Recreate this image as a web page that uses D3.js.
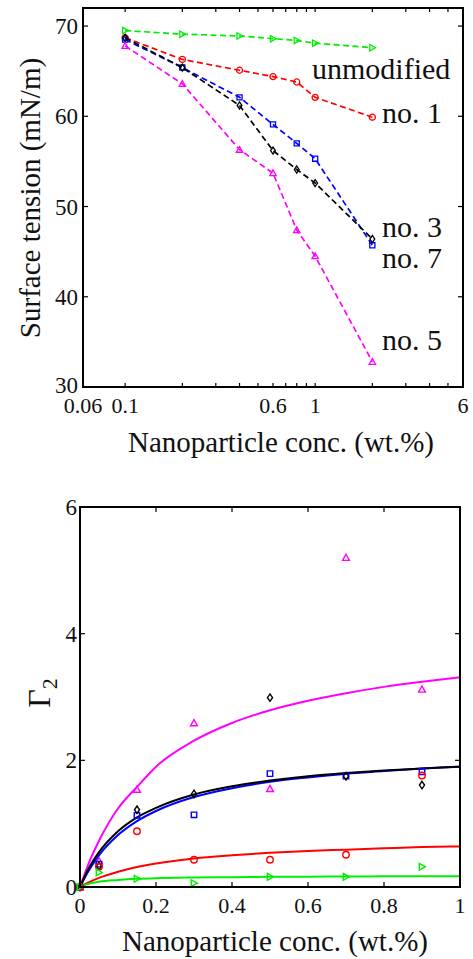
<!DOCTYPE html>
<html>
<head>
<meta charset="utf-8">
<script src="https://cdn.jsdelivr.net/npm/d3@7"></script>
<style>
  html, body { margin: 0; padding: 0; background: #fff; }
  svg { display: block; }
  text { font-family: "Liberation Serif", "Times New Roman", serif; fill: #111; }
</style>
</head>
<body>
<svg id="chart" width="473" height="959"></svg>
<script>
// ---- top panel: surface tension vs concentration (log x) ----
var conc = [0.1, 0.2, 0.4, 0.6, 0.8, 1, 2];
var tensUnmod = [69.5, 69.1, 68.9, 68.6, 68.4, 68.1, 67.6];
var tensNo1   = [68.7, 66.3, 65.1, 64.4, 63.8, 62.1, 59.9];
var tensNo7   = [68.5, 65.4, 62.1, 59.1, 57.0, 55.3, 45.7];
var tensNo3   = [68.7, 65.4, 61.2, 56.2, 54.1, 52.6, 46.4];
var tensNo5   = [67.8, 63.6, 56.3, 53.7, 47.4, 44.5, 32.8];
var topXTicks = [0.06, 0.1, 0.2, 0.3, 0.4, 0.5, 0.6, 0.7, 0.8, 0.9, 1, 2, 3, 4, 5, 6];
var topXLabels = [0.06, 0.1, 0.6, 1, 6];
var topYTicks = [30, 40, 50, 60, 70];

// ---- bottom panel: Gamma_2 vs concentration ----
var conc2 = [0, 0.05, 0.15, 0.3, 0.5, 0.7, 0.9];
var gamUnmod = [0, 0.23, 0.13, 0.06, 0.16, 0.16, 0.32];
var gamNo1   = [0, 0.32, 0.88, 0.43, 0.43, 0.51, 1.76];
var gamNo7   = [0, 0.36, 1.13, 1.14, 1.79, 1.75, 1.82];
var gamNo3   = [0, 0.33, 1.22, 1.47, 2.99, 1.75, 1.61];
var gamNo5   = [0, 0.41, 1.54, 2.59, 1.55, 5.20, 3.12];
// fitted curves
var fitX     = [0, 0.02, 0.05, 0.1, 0.15, 0.2, 0.3, 0.4, 0.5, 0.6, 0.7, 0.8, 0.9, 1];
var fitNo5   = [0, 0.33, 0.73, 1.24, 1.58, 1.90, 2.31, 2.59, 2.79, 2.94, 3.06, 3.16, 3.24, 3.31];
var fitNo3   = [0, 0.26, 0.55, 0.88, 1.10, 1.25, 1.46, 1.59, 1.68, 1.75, 1.80, 1.84, 1.87, 1.90];
var fitNo7   = [0, 0.23, 0.50, 0.82, 1.04, 1.20, 1.42, 1.56, 1.66, 1.73, 1.79, 1.83, 1.87, 1.90];
var fitNo1   = [0, 0.065, 0.144, 0.24, 0.315, 0.37, 0.45, 0.50, 0.54, 0.57, 0.59, 0.61, 0.63, 0.64];
var fitUnmod = [0, 0.045, 0.082, 0.11, 0.129, 0.14, 0.15, 0.155, 0.16, 0.163, 0.166, 0.168, 0.169, 0.17];
var botXTicks = [0, 0.2, 0.4, 0.6, 0.8, 1];
var botYTicks = [0, 2, 4, 6];

var GREEN = '#00ee00', RED = '#ff0000', BLUE = '#0000ff', BLACK = '#000000', MAGENTA = '#ff00ff';

var svg = d3.select('#chart');

// marker shapes (MATLAB style): '>', 'o', 's', 'd', '^'
function markerPath(type, s) {
  switch (type) {
    case 'tri-right': return 'M' + (-s * 0.8) + ',' + (-s) + 'L' + (s) + ',0L' + (-s * 0.8) + ',' + s + 'Z';
    case 'tri-up':    return 'M0,' + (-s) + 'L' + s + ',' + (s * 0.8) + 'L' + (-s) + ',' + (s * 0.8) + 'Z';
    case 'square':    return 'M' + (-s * 0.8) + ',' + (-s * 0.8) + 'h' + (s * 1.6) + 'v' + (s * 1.6) + 'h' + (-s * 1.6) + 'Z';
    case 'diamond':   return 'M0,' + (-s * 1.1) + 'L' + (s * 0.75) + ',0L0,' + (s * 1.1) + 'L' + (-s * 0.75) + ',0Z';
    default:          return d3.arc()({innerRadius: 0, outerRadius: s * 0.95, startAngle: 0, endAngle: 2 * Math.PI});
  }
}

function drawFrame(g, x0, x1, y0, y1) {
  g.append('rect')
    .attr('x', x0).attr('y', y0)
    .attr('width', x1 - x0).attr('height', y1 - y0)
    .attr('fill', 'none').attr('stroke', '#000').attr('stroke-width', 2);
}

// ================= top panel =================
var T = {left: 83, right: 463, top: 8, bottom: 387};
var xTop = d3.scaleLog().domain([0.06, 6]).range([T.left, T.right]);
var yTop = d3.scaleLinear().domain([30, 72]).range([T.bottom, T.top]);
var gTop = svg.append('g');

var topSeries = [
  {vals: tensUnmod, color: GREEN,   mark: 'tri-right'},
  {vals: tensNo1,   color: RED,     mark: 'circle'},
  {vals: tensNo7,   color: BLUE,    mark: 'square'},
  {vals: tensNo3,   color: BLACK,   mark: 'diamond'},
  {vals: tensNo5,   color: MAGENTA, mark: 'tri-up'}
];

var lineTop = d3.line()
  .x(function(d) { return xTop(d[0]); })
  .y(function(d) { return yTop(d[1]); });

topSeries.forEach(function(s) {
  var pts = conc.map(function(c, i) { return [c, s.vals[i]]; });
  gTop.append('path')
    .attr('d', lineTop(pts))
    .attr('fill', 'none').attr('stroke', s.color)
    .attr('stroke-width', 1.7).attr('stroke-dasharray', '6,3.5');
  gTop.selectAll(null).data(pts).enter().append('path')
    .attr('transform', function(d) { return 'translate(' + xTop(d[0]) + ',' + yTop(d[1]) + ')'; })
    .attr('d', markerPath(s.mark, 3.2))
    .attr('fill', 'none').attr('stroke', s.color).attr('stroke-width', 1.3);
});

drawFrame(gTop, T.left, T.right, T.top, T.bottom);

// tick marks inside on all four sides
topXTicks.forEach(function(t) {
  var x = xTop(t);
  gTop.append('line').attr('x1', x).attr('x2', x).attr('y1', T.bottom).attr('y2', T.bottom - 4)
    .attr('stroke', '#000').attr('stroke-width', 1.2);
  gTop.append('line').attr('x1', x).attr('x2', x).attr('y1', T.top).attr('y2', T.top + 4)
    .attr('stroke', '#000').attr('stroke-width', 1.2);
});
topYTicks.forEach(function(t) {
  var y = yTop(t);
  gTop.append('line').attr('x1', T.left).attr('x2', T.left + 5).attr('y1', y).attr('y2', y)
    .attr('stroke', '#000').attr('stroke-width', 1.2);
  gTop.append('line').attr('x1', T.right).attr('x2', T.right - 5).attr('y1', y).attr('y2', y)
    .attr('stroke', '#000').attr('stroke-width', 1.2);
});

gTop.selectAll(null).data(topXLabels).enter().append('text')
  .attr('x', function(d) { return xTop(d); })
  .attr('y', 413)
  .attr('text-anchor', 'middle')
  .style('font-size', '22px')
  .text(function(d) { return d; });

gTop.selectAll(null).data(topYTicks).enter().append('text')
  .attr('x', T.left - 5)
  .attr('y', function(d) { return yTop(d) + (d === 30 ? 6 : 8); })
  .attr('text-anchor', 'end')
  .style('font-size', '23px')
  .text(function(d) { return d; });

gTop.append('text')
  .attr('x', 281).attr('y', 452)
  .attr('text-anchor', 'middle')
  .style('font-size', '29px')
  .text('Nanoparticle conc. (wt.%)');

gTop.append('text')
  .attr('transform', 'translate(40,198) rotate(-90)')
  .attr('text-anchor', 'middle')
  .style('font-size', '29px')
  .text('Surface tension (mN/m)');

var seriesLabels = [
  {name: 'unmodified', x: 312, y: 79},
  {name: 'no. 1',      x: 382, y: 123},
  {name: 'no. 3',      x: 382, y: 237},
  {name: 'no. 7',      x: 382, y: 268},
  {name: 'no. 5',      x: 382, y: 350}
];
gTop.selectAll(null).data(seriesLabels).enter().append('text')
  .attr('x', function(d) { return d.x; })
  .attr('y', function(d) { return d.y; })
  .style('font-size', '30px')
  .text(function(d) { return d.name; });

// ================= bottom panel =================
var B = {left: 80, right: 460, top: 507, bottom: 887};
var xBot = d3.scaleLinear().domain([0, 1]).range([B.left, B.right]);
var yBot = d3.scaleLinear().domain([0, 6]).range([B.bottom, B.top]);
var gBot = svg.append('g');

var lineBot = d3.line()
  .x(function(d) { return xBot(d[0]); })
  .y(function(d) { return yBot(d[1]); })
  .curve(d3.curveMonotoneX);

var botSeries = [
  {pts: gamNo5,   fit: fitNo5,   color: MAGENTA, mark: 'tri-up'},
  {pts: gamNo7,   fit: fitNo7,   color: BLUE,    mark: 'square'},
  {pts: gamNo3,   fit: fitNo3,   color: BLACK,   mark: 'diamond'},
  {pts: gamNo1,   fit: fitNo1,   color: RED,     mark: 'circle'},
  {pts: gamUnmod, fit: fitUnmod, color: GREEN,   mark: 'tri-right'}
];

botSeries.forEach(function(s) {
  gBot.append('path')
    .attr('d', lineBot(fitX.map(function(x, i) { return [x, s.fit[i]]; })))
    .attr('fill', 'none').attr('stroke', s.color).attr('stroke-width', 2);
});
botSeries.forEach(function(s) {
  gBot.selectAll(null).data(conc2.map(function(x, i) { return [x, s.pts[i]]; })).enter().append('path')
    .attr('transform', function(d) { return 'translate(' + xBot(d[0]) + ',' + yBot(d[1]) + ')'; })
    .attr('d', markerPath(s.mark, 3.4))
    .attr('fill', 'none').attr('stroke', s.color).attr('stroke-width', 1.4);
});

drawFrame(gBot, B.left, B.right, B.top, B.bottom);

botXTicks.forEach(function(t) {
  var x = xBot(t);
  gBot.append('line').attr('x1', x).attr('x2', x).attr('y1', B.bottom).attr('y2', B.bottom - 5)
    .attr('stroke', '#000').attr('stroke-width', 1.2);
  gBot.append('line').attr('x1', x).attr('x2', x).attr('y1', B.top).attr('y2', B.top + 5)
    .attr('stroke', '#000').attr('stroke-width', 1.2);
});
botYTicks.forEach(function(t) {
  var y = yBot(t);
  gBot.append('line').attr('x1', B.left).attr('x2', B.left + 5).attr('y1', y).attr('y2', y)
    .attr('stroke', '#000').attr('stroke-width', 1.2);
  gBot.append('line').attr('x1', B.right).attr('x2', B.right - 5).attr('y1', y).attr('y2', y)
    .attr('stroke', '#000').attr('stroke-width', 1.2);
});

gBot.selectAll(null).data(botXTicks).enter().append('text')
  .attr('x', function(d) { return xBot(d); })
  .attr('y', 913)
  .attr('text-anchor', 'middle')
  .style('font-size', '22px')
  .text(function(d) { return d; });

gBot.selectAll(null).data(botYTicks).enter().append('text')
  .attr('x', B.left - 3)
  .attr('y', function(d) { return yBot(d) + 8; })
  .attr('text-anchor', 'end')
  .style('font-size', '23px')
  .text(function(d) { return d; });

gBot.append('text')
  .attr('x', 275).attr('y', 951)
  .attr('text-anchor', 'middle')
  .style('font-size', '29px')
  .text('Nanoparticle conc. (wt.%)');

var gLab = gBot.append('text')
  .attr('transform', 'translate(50,693) rotate(-90)')
  .attr('text-anchor', 'middle')
  .style('font-size', '32px');
gLab.append('tspan').text('Γ');
gLab.append('tspan').attr('dy', 7).style('font-size', '22px').text('2');
</script>
</body>
</html>
